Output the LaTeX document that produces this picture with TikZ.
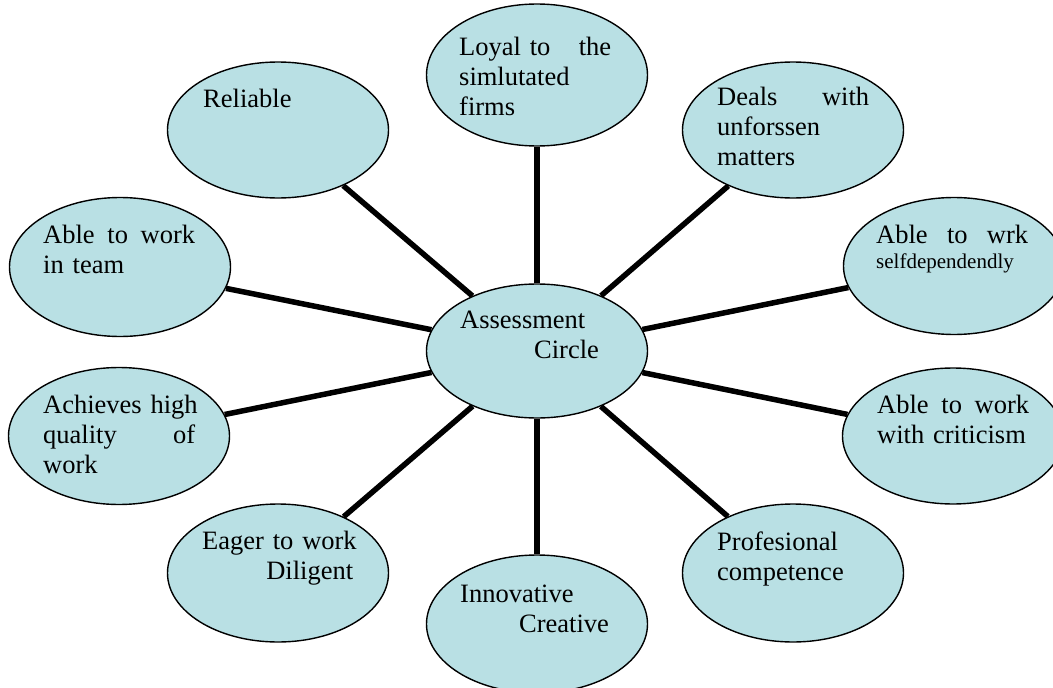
\documentclass[tikz,border=0pt]{standalone}
\usepackage{fontspec}
\setmainfont{Liberation Serif}
\usetikzlibrary{shapes.geometric,backgrounds}
\definecolor{bubblefill}{RGB}{185,224,228}

\begin{document}
\begin{tikzpicture}[x=1pt, y=-1pt,
  bubble/.style={
    ellipse, draw, line width=1.4pt,
    fill=bubblefill,
    minimum width=221pt,
    inner sep=0pt
  },
  txt/.style={
    anchor=base west, inner sep=0pt,
    text width=152pt, align=left,
    font=\fontsize{26.5}{30}\selectfont
  },
  spoke/.style={line width=5.5pt}
]
\useasboundingbox (0,0) rectangle (1053,688);

% --- Bubbles ---
\node[bubble, minimum height=134pt] (centre) at (537,351) {};
\foreach \n/\x/\y/\h in {loyal/537/75/142, reliable/278/130/136, deals/793/130/136,
  team/120/267/139, selfdep/954/266/137, quality/119/436/137,
  criticism/953/436/136, eager/278/573/138, profes/793/573/138, innov/537/624/138} {
  \node[bubble, minimum height=\h pt] (\n) at (\x,\y) {};
}

% --- Spokes ---
\begin{scope}[on background layer]
  \foreach \n in {loyal,reliable,deals,team,selfdep,quality,criticism,eager,profes,innov}
    \draw[spoke] (centre) -- (\n);
\end{scope}

% --- Labels ---
\node[txt] (centre-t) at ([shift={(-77,-23)}]centre.center) {Assessment\\\hspace*{74pt}Circle};
\node[txt] (loyal-t) at ([shift={(-78,-20)}]loyal.center) {Loyal to\hfill the\\simlutated\\firms};
\node[txt] (reliable-t) at ([shift={(-75,-23)}]reliable.center) {Reliable};
\node[txt] (deals-t) at ([shift={(-76,-25)}]deals.center) {Deals\hfill with\\unforssen\\matters};
\node[txt] (team-t) at ([shift={(-77,-24)}]team.center) {Able\hfill to\hfill work\\in team};
\node[txt] (selfdep-t) at ([shift={(-78,-23)}]selfdep.center)
  {Able\hfill to\hfill wrk\\[-5pt]{\fontsize{21}{25}\selectfont selfdependendly}};
\node[txt] (quality-t) at ([shift={(-76,-23)}]quality.center) {\mbox{Achieves high}\\quality\hfill of\\work};
\node[txt] (criticism-t) at ([shift={(-76,-23)}]criticism.center) {Able\hfill to\hfill work\\with criticism};
\node[txt, text width=151pt] (eager-t) at ([shift={(-76,-24)}]eager.center) {\mbox{Eager to work}\\\hfill Diligent};
\node[txt] (profes-t) at ([shift={(-76,-23)}]profes.center) {Profesional\\competence};
\node[txt] (innov-t) at ([shift={(-77,-22)}]innov.center) {Innovative\\\hspace*{59pt}Creative};

\end{tikzpicture}
\end{document}
